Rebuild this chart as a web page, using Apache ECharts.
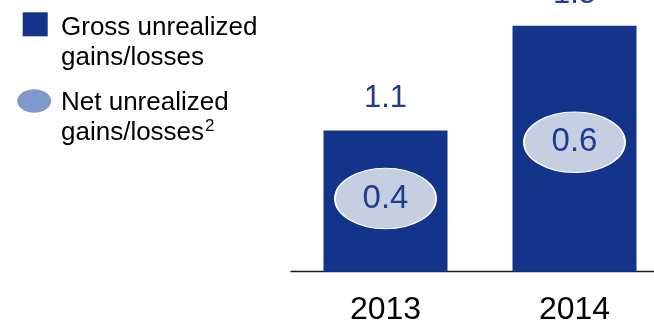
<!DOCTYPE html>
<html>
<head>
<meta charset="utf-8">
<script src="https://cdn.jsdelivr.net/npm/echarts@6/dist/echarts.min.js"></script>
<style>
html,body{margin:0;padding:0;background:#fff;}
#chart{width:654px;height:325px;}
</style>
</head>
<body>
<div id="chart"></div>
<script>
// ---- data ----
var years = ['2013', '2014'];
var grossValues = [1.1, 1.5];
var netValues = [0.4, 0.6];
var grossName = 'Gross unrealized gains/losses';
var netName = 'Net unrealized gains/losses';

// ---- styles ----
var FONT = 'Liberation Sans, Arial, sans-serif';
var BAR_COLOR = '#12348a';
var LABEL_COLOR = '#1f3c8f';
var NET_FILL = '#c6cee2';
var NET_LEGEND = '#7f99cc';
var ELLIPSE = 'path://M50 0C77.6 0 100 22.4 100 50C100 77.6 77.6 100 50 100C22.4 100 0 77.6 0 50C0 22.4 22.4 0 50 0Z';

var chart = echarts.init(document.getElementById('chart'), null, {renderer: 'canvas'});
chart.setOption({
  animation: false,
  backgroundColor: '#ffffff',
  grid: {left: 291, top: 10, bottom: 53.3, width: 378, outerBoundsMode: 'none', containLabel: false},
  xAxis: {
    type: 'category',
    data: years,
    axisTick: {show: false},
    axisLine: {show: true, lineStyle: {color: '#1a1a1a', width: 1.4}},
    axisLabel: {fontFamily: FONT, fontSize: 32, color: '#000', margin: 22}
  },
  yAxis: [
    {type: 'value', min: 0.56, max: 1.56, show: false, splitLine: {show: false}},
    {type: 'value', min: 0.14, max: 1.07, show: false, splitLine: {show: false}}
  ],
  series: [
    {
      name: grossName,
      type: 'bar',
      data: grossValues,
      barWidth: 124,
      itemStyle: {color: BAR_COLOR},
      label: {show: true, position: 'top', distance: 16, fontFamily: FONT, fontSize: 31, color: LABEL_COLOR}
    },
    {
      name: netName,
      type: 'scatter',
      yAxisIndex: 1,
      data: netValues,
      symbol: ELLIPSE,
      symbolSize: [101, 60.5],
      itemStyle: {color: NET_FILL, borderColor: '#ffffff', borderWidth: 1.5, opacity: 1},
      label: {show: true, position: 'inside', fontFamily: FONT, fontSize: 33, color: LABEL_COLOR},
      z: 3
    }
  ],
  graphic: [
    {type: 'rect', shape: {x: 22.7, y: 12.3, width: 25, height: 24}, style: {fill: BAR_COLOR}},
    {type: 'text', x: 61, y: 13, style: {
      text: 'Gross unrealized\ngains/losses', font: '26px ' + FONT, lineHeight: 30,
      fill: '#000', verticalAlign: 'top', align: 'left'}},
    {type: 'ellipse', shape: {cx: 34.2, cy: 101, rx: 17, ry: 11.7}, style: {fill: NET_LEGEND}},
    {type: 'text', x: 61, y: 88, style: {
      text: '{a|Net unrealized}\n{a|gains/losses}{s|2}',
      verticalAlign: 'top', align: 'left',
      rich: {
        a: {fontFamily: FONT, fontSize: 26, lineHeight: 30, color: '#000'},
        s: {fontFamily: FONT, fontSize: 17, lineHeight: 30, color: '#000', verticalAlign: 'top', padding: [0, 0, 0, 1]}
      }}}
  ]
});
</script>
</body>
</html>
